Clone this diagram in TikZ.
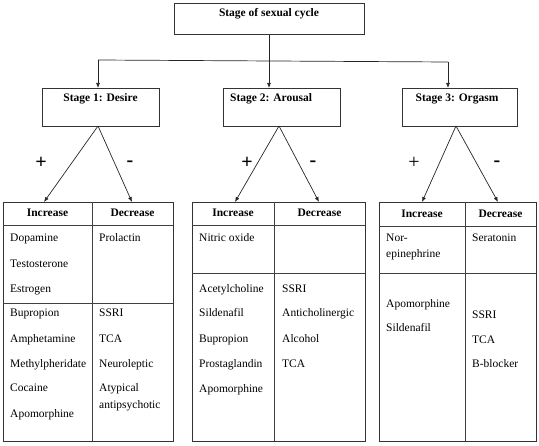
\documentclass[tikz,border=0pt]{standalone}
\usepackage{fontspec}
\setmainfont{Liberation Serif}
\usetikzlibrary{arrows.meta}
\begin{document}
\begin{tikzpicture}[x=1pt,y=-1pt,
  box/.style={draw=black!80, line width=0.8pt, inner sep=0pt, anchor=north west},
  grid/.style={draw=black!75, line width=0.8pt},
  conn/.style={draw=black!85, line width=0.7pt},
  arr/.style={conn, -{Latex[length=5pt,width=4pt]}},
  hdr/.style={font=\rmfamily\fontsize{11.5}{13}\selectfont\bfseries, inner sep=0pt},
  txt/.style={font=\rmfamily\fontsize{11.5}{13}\selectfont, inner sep=0pt, anchor=base west},
  sgn/.style={font=\rmfamily\fontsize{20}{20}\selectfont\bfseries, inner sep=0pt},
  sgnl/.style={font=\rmfamily\fontsize{20}{20}\selectfont, inner sep=0pt}]
\useasboundingbox (0,0) rectangle (539,446);

% top box
\node[box, minimum width=190pt, minimum height=31pt] (top) at (174,3) {};
\node[hdr] (toplbl) at (269,14) {Stage of sexual cycle};

% stage boxes
\node[box, minimum width=117pt, minimum height=38pt] (s1) at (42,88) {};
\node[box, minimum width=117pt, minimum height=38pt] (s2) at (223,88) {};
\node[box, minimum width=115pt, minimum height=38pt] (s3) at (402,88) {};
\node[hdr] (s1l) at (100.5,99) {Stage 1: Desire};
\node[hdr, anchor=west] (s2l) at (230,99) {Stage 2: Arousal};
\node[hdr] (s3l) at (457,99) {Stage 3: Orgasm};

% connectors top -> stages
\coordinate (hub) at (269,61);
\coordinate (hl) at (98,60);
\coordinate (hr) at (448,62);
\draw[conn] (top.south -| hub) -- (hub);
\draw[conn] (hl) -- (hr);
\draw[arr] (hl) -- (hl |- s1.north);
\draw[arr] (hub) -- (hub |- s2.north);
\draw[arr] (hr) -- (hr |- s3.north);

% tables
\node[box, minimum width=170pt, minimum height=239pt] (t1) at (3,202) {};
\node[box, minimum width=173pt, minimum height=239pt] (t2) at (192,202) {};
\node[box, minimum width=157pt, minimum height=239pt] (t3) at (379,202) {};

\draw[grid] (92,202) -- (92,441);
\draw[grid] (3,225) -- (173,225);
\draw[grid] (3,303) -- (173,303);
\draw[grid] (274,202) -- (274,441);
\draw[grid] (192,225) -- (365,225);
\draw[grid] (192,273) -- (365,273);
\draw[grid] (465,202) -- (465,441);
\draw[grid] (379,226) -- (536,226);
\draw[grid] (379,273) -- (536,273);

% stage -> table arrows
\coordinate (a1) at (98,126);
\coordinate (a2) at (279,126);
\coordinate (a3) at (456,126);
\coordinate (p1) at (44,202);
\coordinate (m1) at (132,202);
\coordinate (p2) at (235,202);
\coordinate (m2) at (319,202);
\coordinate (p3) at (422,202);
\coordinate (m3) at (498,202);
\draw[arr] (a1) -- (p1);
\draw[arr] (a1) -- (m1);
\draw[arr] (a2) -- (p2);
\draw[arr] (a2) -- (m2);
\draw[arr] (a3) -- (p3);
\draw[arr] (a3) -- (m3);

\node[sgn] (sp1) at (41,163) {+};
\node[sgn] (sm1) at (130,164) {-};
\node[sgn] (sp2) at (247,163) {+};
\node[sgn] (sm2) at (313,164) {-};
\node[sgnl] (sp3) at (414,163) {+};
\node[sgn] (sm3) at (497,164) {-};

% headers
\node[hdr] (h1i) at (47.5,213) {Increase};
\node[hdr] (h1d) at (132.5,213) {Decrease};
\node[hdr] (h2i) at (233,213) {Increase};
\node[hdr] (h2d) at (319.5,213) {Decrease};
\node[hdr] (h3i) at (422,214) {Increase};
\node[hdr] (h3d) at (500.5,214) {Decrease};

% table 1
\node[txt] (c1a) at (10,242) {Dopamine};
\node[txt] (c1b) at (10,268) {Testosterone};
\node[txt] (c1c) at (10,293) {Estrogen};
\node[txt] (c1d) at (10,317) {Bupropion};
\node[txt] (c1e) at (10,343) {Amphetamine};
\node[txt] (c1f) at (10,368) {Methylpheridate};
\node[txt] (c1g) at (10,392) {Cocaine};
\node[txt] (c1h) at (10,418) {Apomorphine};
\node[txt] (d1a) at (99,242) {Prolactin};
\node[txt] (d1b) at (99,317) {SSRI};
\node[txt] (d1c) at (99,343) {TCA};
\node[txt] (d1d) at (99,368) {Neuroleptic};
\node[txt] (d1e) at (99,392) {Atypical};
\node[txt] (d1f) at (99,409) {antipsychotic};

% table 2
\node[txt] (c2a) at (199,242) {Nitric oxide};
\node[txt] (c2b) at (199,293) {Acetylcholine};
\node[txt] (c2c) at (199,317) {Sildenafil};
\node[txt] (c2d) at (199,343) {Bupropion};
\node[txt] (c2e) at (199,368) {Prostaglandin};
\node[txt] (c2f) at (199,393) {Apomorphine};
\node[txt] (d2a) at (282,293) {SSRI};
\node[txt] (d2b) at (282,317) {Anticholinergic};
\node[txt] (d2c) at (282,343) {Alcohol};
\node[txt] (d2d) at (282,368) {TCA};

% table 3
\node[txt] (c3a) at (386,242) {Nor-};
\node[txt] (c3b) at (386,258) {epinephrine};
\node[txt] (c3c) at (386,308) {Apomorphine};
\node[txt] (c3d) at (386,332) {Sildenafil};
\node[txt] (d3a) at (472,242) {Seratonin};
\node[txt] (d3b) at (472,319) {SSRI};
\node[txt] (d3c) at (472,344) {TCA};
\node[txt] (d3d) at (472,368) {B-blocker};
\end{tikzpicture}
\end{document}
